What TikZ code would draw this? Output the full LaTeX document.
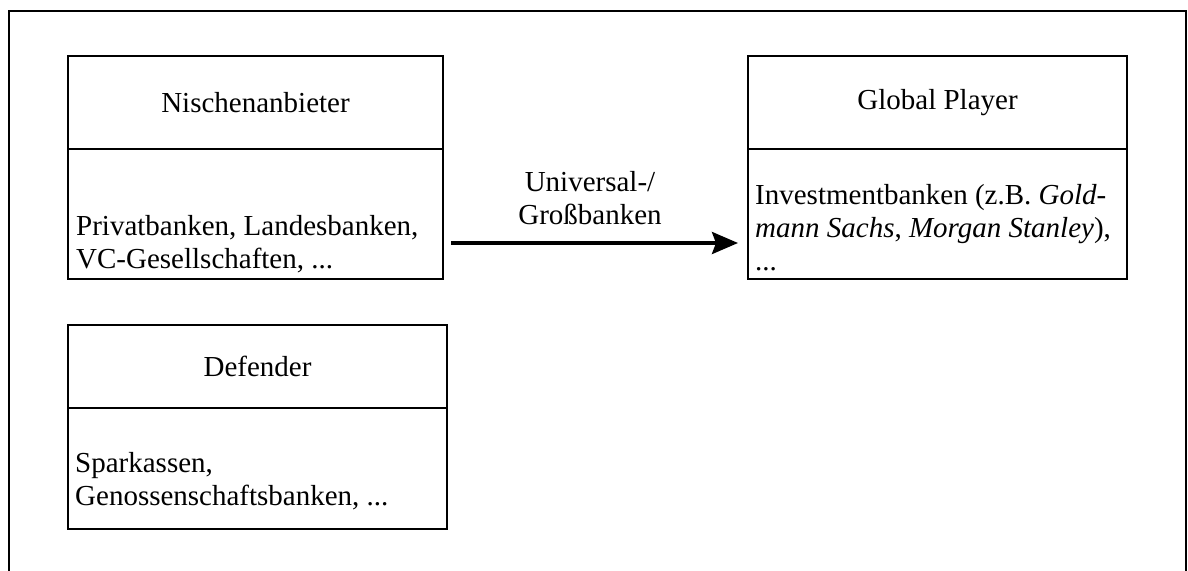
\documentclass[tikz,border=0pt]{standalone}
\usepackage{fontspec}
\setmainfont{Liberation Serif}
\usetikzlibrary{arrows.meta}
\begin{document}
\begin{tikzpicture}[x=1pt,y=-1pt,
  every node/.style={font=\fontsize{29}{33}\selectfont},
  headbox/.style={draw, line width=2.4pt, inner sep=0pt, outer sep=0pt, anchor=north west, align=center},
  bodybox/.style={draw, line width=2.4pt, inner sep=0pt, outer sep=0pt, anchor=north west},
  bodytext/.style={anchor=north west, inner sep=0pt, align=left},
  frameline/.style={line width=2.4pt},
  flow/.style={line width=3.6pt, -{Stealth[length=26pt,width=22pt,inset=4pt]}}
]
\useasboundingbox (0,0) rectangle (1188,570);

% open outer frame
\draw[frameline] (9,574) -- (9,11) -- (1186,11) -- (1186,574);

% Nischenanbieter
\node[headbox, minimum width=375pt, minimum height=93pt] (nhead) at (68,56) {Nischenanbieter};
\node[bodybox, minimum width=375pt, minimum height=130pt] (nbody) at (nhead.south west) {};
\node[bodytext] (ntext) at ([shift={(8,66)}]nbody.north west)
  {Privatbanken, Landesbanken,\\VC-Gesellschaften, ...};

% Global Player
\node[headbox, minimum width=379pt, minimum height=93pt] (ghead) at (748,56) {Global Player};
\node[bodybox, minimum width=379pt, minimum height=130pt] (gbody) at (ghead.south west) {};
\node[bodytext] (gtext) at ([shift={(7,35)}]gbody.north west)
  {Investmentbanken (z.B. \textit{Gold-}\\\textit{mann Sachs}, \textit{Morgan Stanley}),\\...};

% Defender
\node[headbox, minimum width=379pt, minimum height=83pt] (dhead) at (68,325) {Defender};
\node[bodybox, minimum width=379pt, minimum height=121pt] (dbody) at (dhead.south west) {};
\node[bodytext] (dtext) at ([shift={(7,44)}]dbody.north west)
  {Sparkassen,\\Genossenschaftsbanken, ...};

% transition arrow
\draw[flow] ([shift={(8,-36)}]nbody.south east) -- ([shift={(-10,-36)}]gbody.south west);
\node[align=center, inner sep=0pt] (lbl) at (590,198) {Universal-/\\Großbanken};
\end{tikzpicture}
\end{document}
